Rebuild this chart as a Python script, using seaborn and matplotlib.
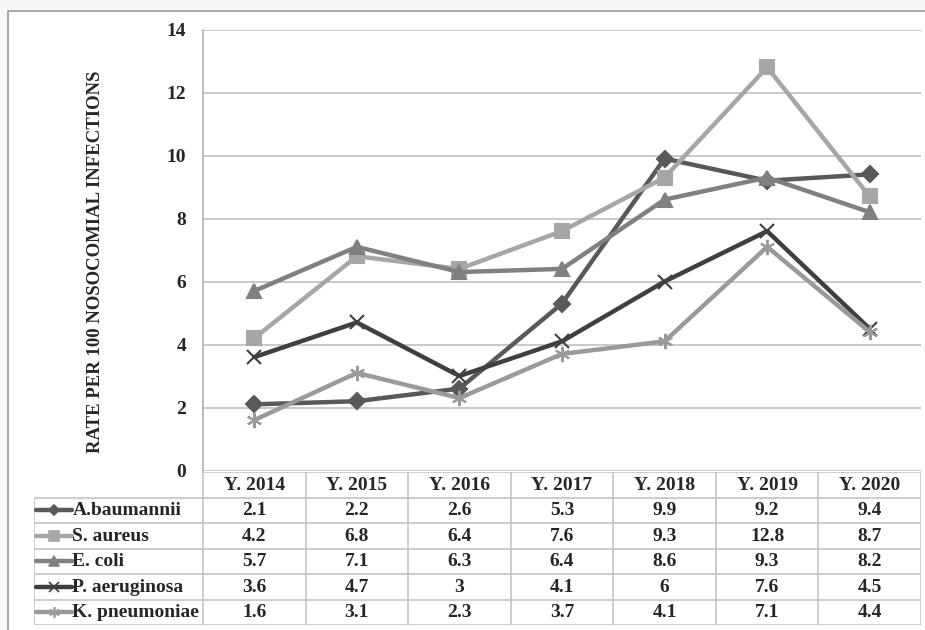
import pandas as pd
import seaborn as sns
import matplotlib.pyplot as plt
from matplotlib.patches import Rectangle
from matplotlib.lines import Line2D

sns.set_theme(style="white")
plt.rcParams["font.family"] = ["Liberation Serif", "DejaVu Serif"]
plt.rcParams["font.weight"] = "bold"

years = ["Y. 2014", "Y. 2015", "Y. 2016", "Y. 2017", "Y. 2018", "Y. 2019", "Y. 2020"]
organisms = ["A.baumannii", "S. aureus", "E. coli", "P. aeruginosa", "K. pneumoniae"]
a_baumannii = [2.1, 2.2, 2.6, 5.3, 9.9, 9.2, 9.4]
s_aureus = [4.2, 6.8, 6.4, 7.6, 9.3, 12.8, 8.7]
e_coli = [5.7, 7.1, 6.3, 6.4, 8.6, 9.3, 8.2]
p_aeruginosa = [3.6, 4.7, 3, 4.1, 6, 7.6, 4.5]
k_pneumoniae = [1.6, 3.1, 2.3, 3.7, 4.1, 7.1, 4.4]
yticks = [0, 2, 4, 6, 8, 10, 12, 14]

series = [a_baumannii, s_aureus, e_coli, p_aeruginosa, k_pneumoniae]
colors = ["#595959", "#a6a6a6", "#808080", "#3f3f3f", "#9a9a9a"]
markers = ["D", "s", "^", "x", (6, 2, 0)]
msizes = [8, 10, 10, 10, 11]

rows = []
for name, vals in zip(organisms, series):
    for i, v in enumerate(vals):
        rows.append({"pos": i, "rate": v, "organism": name})
df = pd.DataFrame(rows)

W, H = 925, 630
FS = 14
fig = plt.figure(figsize=(W / 100, H / 100), dpi=100)
fig.patch.set_facecolor("#faf7f7")
fig.add_artist(Rectangle((8 / W, -0.01), 1.01, (H - 11) / H + 0.01,
                         transform=fig.transFigure, facecolor="white",
                         edgecolor="#9a9a9a", lw=1.2, zorder=-10))

# plot area in pixels: x 203..921, y 29.5..470.5
ax = fig.add_axes([203 / W, (H - 470.5) / H, (921 - 203) / W, (470.5 - 29.5) / H])
ax.set_facecolor("white")

sns.lineplot(data=df, x="pos", y="rate", hue="organism",
             hue_order=organisms, palette=dict(zip(organisms, colors)),
             lw=3.2, legend=False, ax=ax)
for line, c, m, ms in zip(ax.lines, colors, markers, msizes):
    line.set_marker(m)
    line.set_markeredgecolor(c)
    line.set_markerfacecolor(c)
    line.set_markersize(ms)
    line.set_markeredgewidth(1.5)

ax.set_xlim(-0.5, len(years) - 0.5)
ax.set_ylim(0, 14)
ax.set_yticks(yticks)
ax.set_yticklabels([str(t) for t in yticks], fontsize=FS, fontweight="bold")
ax.tick_params(axis="y", length=0, pad=12)
ax.set_xticks([])
ax.set_xlabel("")
ax.set_ylabel("RATE PER 100 NOSOCOMIAL INFECTIONS", fontsize=13.5,
              fontweight="bold", labelpad=0)
ax.yaxis.set_label_coords(-0.138, 0.473)
for t in yticks:
    ax.axhline(t, color="#c0c0c0", lw=1.2, zorder=0)
for side in ["top", "right", "bottom"]:
    ax.spines[side].set_visible(False)
ax.spines["left"].set_color("#b0b0b0")
ax.spines["left"].set_linewidth(1.2)

# data table below the chart
col_w = (921 - 203) / len(years)
lab_w = (203 - 34) / col_w
tax = fig.add_axes([34 / W, (H - 625) / H, (921 - 34) / W, (625 - 472) / H])
tax.set_xlim(-0.5 - lab_w, len(years) - 0.5)
tax.set_ylim(len(organisms) + 1, 0)
tax.axis("off")
gc = "#c4c4c4"
left = -0.5 - lab_w
right = len(years) - 0.5
tax.hlines(0, -0.5, right, color=gc, lw=1.2)
tax.hlines(range(1, len(organisms) + 2), left, right, color=gc, lw=1.2)
tax.vlines(left, 1, len(organisms) + 1, color=gc, lw=1.2)
tax.vlines([i - 0.5 for i in range(len(years) + 1)], 0, len(organisms) + 1,
           color=gc, lw=1.2)
for i, yr in enumerate(years):
    tax.text(i, 0.52, yr, ha="center", va="center", fontsize=FS, fontweight="bold")
for r, (name, vals, c, m, ms) in enumerate(zip(organisms, series, colors, markers, msizes)):
    y = r + 1.52
    kx0 = left + 0.02
    kx1 = left + 0.37
    tax.add_line(Line2D([kx0, kx1], [y - 0.02, y - 0.02], color=c, lw=3.2))
    tax.add_line(Line2D([(kx0 + kx1) / 2], [y - 0.02], color=c, marker=m,
                        markersize=ms * 0.7, mec=c, mfc=c, mew=1.2))
    tax.text(kx1 + 0.005, y, name, ha="left", va="center", fontsize=FS,
             fontweight="bold")
    for i, v in enumerate(vals):
        tax.text(i, y, f"{v:g}", ha="center", va="center", fontsize=FS,
                 fontweight="bold")

fig.savefig("out.png", dpi=100, facecolor=fig.get_facecolor())
